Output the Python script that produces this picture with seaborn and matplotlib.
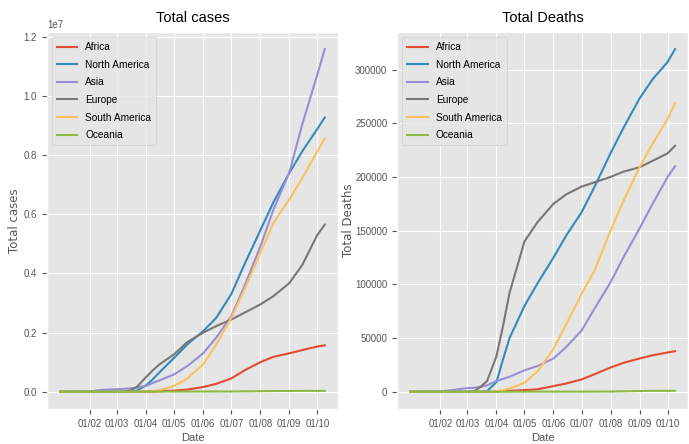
import pandas as pd
import numpy as np
import seaborn as sns
import matplotlib.pyplot as plt
import matplotlib.dates as mdates
import warnings
warnings.filterwarnings('ignore')

# sample dates (OWID style, from 2019-12-31)
dates = ['2019-12-31', '2020-01-15', '2020-02-01', '2020-02-15', '2020-03-01',
         '2020-03-08', '2020-03-15', '2020-03-22', '2020-04-01', '2020-04-08',
         '2020-04-15', '2020-05-01', '2020-05-15', '2020-06-01', '2020-06-15',
         '2020-07-01', '2020-07-15', '2020-08-01', '2020-08-15', '2020-09-01',
         '2020-09-15', '2020-10-01', '2020-10-09']

continents = ['Africa', 'North America', 'Asia', 'Europe', 'South America', 'Oceania']

cases_africa = [0, 0, 0, 0, 1, 30, 400, 1500, 6000, 11000, 17000, 40000, 75000, 160000,
                270000, 450000, 720000, 1000000, 1180000, 1300000, 1410000, 1530000, 1570000]
cases_north_america = [0, 0, 7, 15, 70, 500, 3000, 40000, 220000, 420000, 650000, 1150000,
                       1600000, 2050000, 2500000, 3300000, 4300000, 5450000, 6400000,
                       7390000, 8130000, 8880000, 9270000]
cases_asia = [30, 60, 12000, 69000, 88000, 100000, 115000, 145000, 200000, 300000, 380000,
              590000, 870000, 1300000, 1830000, 2550000, 3560000, 4900000, 6150000,
              7400000, 9050000, 10720000, 11580000]
cases_europe = [0, 0, 10, 50, 2000, 8000, 50000, 160000, 500000, 720000, 920000, 1270000,
                1680000, 2000000, 2220000, 2440000, 2670000, 2950000, 3230000, 3670000,
                4290000, 5300000, 5650000]
cases_south_america = [0, 0, 0, 0, 1, 20, 200, 2000, 15000, 30000, 50000, 200000, 450000,
                       930000, 1600000, 2500000, 3450000, 4680000, 5700000, 6500000,
                       7220000, 8130000, 8560000]
cases_oceania = [0, 0, 10, 15, 30, 80, 400, 2000, 5500, 7000, 7600, 8200, 8500, 9000, 9200,
                 10000, 13000, 20000, 25000, 28000, 29500, 30500, 31000]

deaths_africa = [0, 0, 0, 0, 0, 1, 10, 40, 300, 600, 900, 1600, 2300, 5300, 7800, 11500,
                 16400, 22600, 27000, 31000, 34000, 36600, 37800]
deaths_north_america = [0, 0, 0, 0, 1, 20, 70, 600, 9000, 30000, 50000, 80000, 101000,
                        125000, 146000, 167000, 191000, 222000, 246000, 273000, 291000,
                        307000, 319000]
deaths_asia = [0, 0, 260, 1700, 3500, 3700, 4500, 6000, 10000, 12000, 14000, 20000, 24000,
               31000, 42000, 57000, 77500, 102000, 125500, 152000, 175000, 200000, 210000]
deaths_europe = [0, 0, 0, 0, 20, 300, 4600, 10000, 33000, 61000, 92000, 140000, 158000,
                 175000, 184000, 191000, 195000, 200000, 205000, 209000, 215000, 222000,
                 229000]
deaths_south_america = [0, 0, 0, 0, 0, 0, 0, 20, 400, 1500, 3000, 8400, 19000, 40000, 63500,
                        91000, 113000, 150000, 178000, 209000, 231000, 254000, 269000]
deaths_oceania = [0, 0, 0, 0, 1, 3, 5, 10, 30, 60, 90, 110, 120, 125, 130, 135, 170, 230,
                  420, 700, 850, 900, 920]

cases = [cases_africa, cases_north_america, cases_asia, cases_europe,
         cases_south_america, cases_oceania]
deaths = [deaths_africa, deaths_north_america, deaths_asia, deaths_europe,
          deaths_south_america, deaths_oceania]

rows = []
for name, c, d in zip(continents, cases, deaths):
    for day, cv, dv in zip(dates, c, d):
        rows.append({'Date': pd.Timestamp(day), 'continent': name,
                     'Total cases': cv, 'Total Deaths': dv})
df = pd.DataFrame(rows)

plt.style.use('ggplot')
plt.rcParams['font.family'] = ['Liberation Sans', 'DejaVu Sans']

palette = ['#E24A33', '#348ABD', '#988ED5', '#777777', '#FBC15E', '#8EBA42']

fig, axes = plt.subplots(1, 2, figsize=(6.89, 4.44), dpi=100)
fig.subplots_adjust(left=0.068, right=0.999, bottom=0.079, top=0.928, wspace=0.203)

for ax, col, lx in zip(axes, ['Total cases', 'Total Deaths'], [-0.088, -0.143]):
    sns.lineplot(data=df, x='Date', y=col, hue='continent', hue_order=continents,
                 palette=palette, linewidth=1.5, ax=ax)
    ax.set_title(col, fontsize=10.5, color='black', pad=7)
    ax.set_xlabel('Date', fontsize=8, color='#555555', labelpad=3)
    ax.set_ylabel(col, fontsize=8.5, color='#555555', family='DejaVu Sans')
    ax.yaxis.set_label_coords(lx, 0.5)
    ax.xaxis.set_major_locator(mdates.MonthLocator(bymonth=range(2, 11)))
    ax.xaxis.set_major_formatter(mdates.DateFormatter('%d/%m'))
    ax.tick_params(labelsize=7, colors='#555555')
    ax.yaxis.get_offset_text().set_fontsize(7)
    sns.move_legend(ax, 'upper left', title=None, fontsize=7.3, labelspacing=0.75,
                    handlelength=2.0, borderpad=0.5)

fig.savefig('out.png', dpi=100)
